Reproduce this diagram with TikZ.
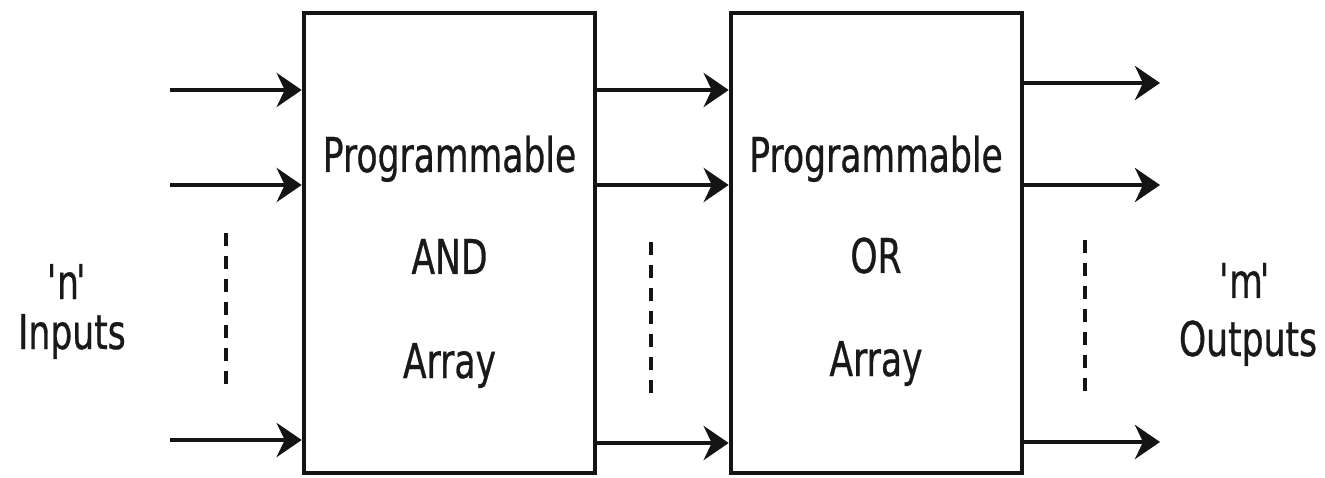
\documentclass[tikz,border=0pt]{standalone}
\usepackage{fontspec}
\newfontfamily\lblfont[FakeStretch=0.72,FakeBold=0.6]{DejaVu Sans}
\usetikzlibrary{arrows.meta}
\begin{document}
\begin{tikzpicture}[x=1pt,y=-1pt,
  block/.style={draw=black!92, line width=4.6pt, minimum width=291pt, minimum height=460pt,
    inner sep=0pt, fill=white},
  lbl/.style={font=\lblfont\fontsize{48}{50}\selectfont, text=black!90, anchor=base, inner sep=0pt},
  arr/.style={line width=4.6pt, draw=black!92,
    -{Stealth[length=25pt, width=34pt, inset=8pt]}},
  dots/.style={line width=3.4pt, draw=black!92, dash pattern=on 13pt off 10pt}]
\useasboundingbox (0,0) rectangle (1325,478);

% the two programmable arrays
\node[block] (andarr) at (449.5,243) {};
\node[block] (orarr) at (876.5,243) {};

\node[lbl] (and1) at (449.5,172) {Programmable};
\node[lbl] (and2) at (449.5,274) {AND};
\node[lbl] (and3) at (449.5,378) {Array};
\node[lbl] (or1) at (876,172) {Programmable};
\node[lbl] (or2) at (876,273) {OR};
\node[lbl] (or3) at (876,376) {Array};

% side labels
\node[lbl] (nq) at (68,299) {\textquotesingle\kern-3pt n\kern-3pt\textquotesingle};
\node[lbl] (inp) at (72,349) {Inputs};
\node[lbl] (mq) at (1246,298) {\textquotesingle\kern-3pt m\kern-3pt\textquotesingle};
\node[lbl] (outp) at (1248,356) {Outputs};

% input lines
\coordinate (i1) at (170,90);
\coordinate (i2) at (170,185);
\coordinate (i3) at (170,440);
\draw[arr] (i1) -- (andarr.west |- i1);
\draw[arr] (i2) -- (andarr.west |- i2);
\draw[arr] (i3) -- (andarr.west |- i3);

% product terms between the arrays
\coordinate (p1) at (600,90);
\coordinate (p2) at (600,185);
\coordinate (p3) at (600,443);
\draw[arr] (andarr.east |- p1) -- (orarr.west |- p1);
\draw[arr] (andarr.east |- p2) -- (orarr.west |- p2);
\draw[arr] (andarr.east |- p3) -- (orarr.west |- p3);

% output lines
\coordinate (o1) at (1160,83);
\coordinate (o2) at (1160,185);
\coordinate (o3) at (1160,442);
\draw[arr] (orarr.east |- o1) -- (o1);
\draw[arr] (orarr.east |- o2) -- (o2);
\draw[arr] (orarr.east |- o3) -- (o3);

% dashed continuation marks
\coordinate (d1a) at (226,233);
\coordinate (d1b) at (226,386);
\coordinate (d2a) at (651,242);
\coordinate (d2b) at (651,396);
\coordinate (d3a) at (1085,240);
\coordinate (d3b) at (1085,396);
\draw[dots] (d1a) -- (d1b);
\draw[dots] (d2a) -- (d2b);
\draw[dots] (d3a) -- (d3b);
\end{tikzpicture}
\end{document}
